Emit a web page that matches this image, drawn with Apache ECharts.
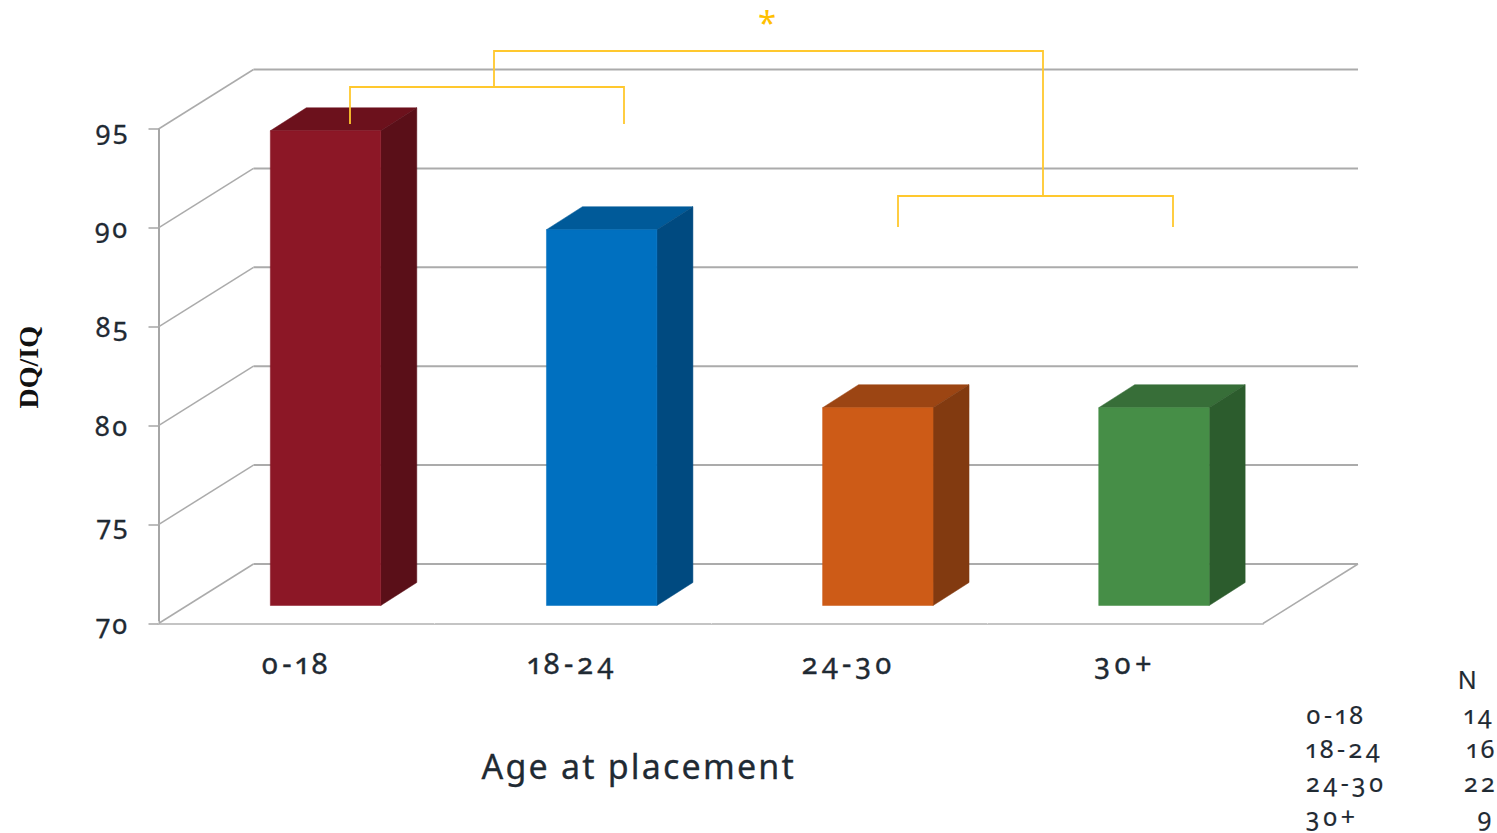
<!DOCTYPE html>
<html>
<head>
<meta charset="utf-8">
<style>
html,body{margin:0;padding:0;background:#fff}
#c{width:1497px;height:833px}
svg text{font-feature-settings:"onum" 1,"pnum" 1 !important;}
svg text[style*="27px"]{letter-spacing:1.8px;stroke:#1f2a33;stroke-width:.3px;}
svg text[style*="29px"]{letter-spacing:4px;stroke:#1f2a33;stroke-width:.4px;}
svg text[style*="34px"]{letter-spacing:2.2px;stroke:#1f2a33;stroke-width:.3px;}
svg text[style*="25px"]{letter-spacing:3.4px;stroke:#1f2a33;stroke-width:.2px;}
</style>
<script src="https://cdn.jsdelivr.net/npm/echarts@6/dist/echarts.min.js"></script>
</head>
<body>
<div id="c"></div>
<script>
var categories = ['0-18', '18-24', '24-30', '30+'];
var dqValues = [94, 89, 80, 80];
var groupSizes = [14, 16, 22, 9];
var yTicks = [70, 75, 80, 85, 90, 95];
var frontColors = ['#8C1726', '#0070C0', '#CD5B17', '#468E47'];
var topColors = ['#6C111C', '#005A99', '#9C4513', '#376E38'];
var sideColors = ['#5A0F18', '#004A80', '#823A10', '#2C5C2D'];

var FONT = '"Noto Sans", "Open Sans", sans-serif';
var INK = '#1f2a33';
var GOLD = '#FFC82E';
var WALL_DX = 95, WALL_DY = -59.5;
var BAR_OFF_X = 29, BAR_OFF_Y = -18, BAR_DX = 36, BAR_DY = -23;

function poly(points, fill) {
  return { type: 'polygon', shape: { points: points }, style: { fill: fill, stroke: fill, lineWidth: 0.5 } };
}
function wallItem(params, api) {
  var v = api.value(1);
  var p = api.coord([0, v]);
  var band = api.size([1, 0])[0];
  var left = p[0] - band / 2;
  var right = left + band * categories.length;
  var line = { stroke: '#ababab', lineWidth: 2, fill: 'none' };
  var children = [
    { type: 'line', shape: { x1: left, y1: p[1], x2: left + WALL_DX, y2: p[1] + WALL_DY }, style: { stroke: '#ababab', lineWidth: 1.5 } },
    { type: 'line', shape: { x1: left + WALL_DX, y1: p[1] + WALL_DY, x2: right + WALL_DX, y2: p[1] + WALL_DY }, style: line }
  ];
  if (v === yTicks[0]) {
    children.push({ type: 'line', shape: { x1: right, y1: p[1], x2: right + WALL_DX, y2: p[1] + WALL_DY }, style: { stroke: '#ababab', lineWidth: 1.5 } });
  }
  return { type: 'group', children: children };
}
function barItem(params, api) {
  var i = api.value(0);
  var top = api.coord([i, api.value(1)]);
  var base = api.coord([i, yTicks[0]]);
  var w = api.size([1, 0])[0] * 0.4;
  var x0 = top[0] - w / 2 + BAR_OFF_X, x1 = x0 + w;
  var yT = top[1] + BAR_OFF_Y, yB = base[1] + BAR_OFF_Y;
  return { type: 'group', children: [
    poly([[x0, yT], [x1, yT], [x1 + BAR_DX, yT + BAR_DY], [x0 + BAR_DX, yT + BAR_DY]], topColors[i]),
    poly([[x1, yT], [x1 + BAR_DX, yT + BAR_DY], [x1 + BAR_DX, yB + BAR_DY], [x1, yB]], sideColors[i]),
    poly([[x0, yT], [x1, yT], [x1, yB], [x0, yB]], frontColors[i])
  ] };
}
function bracket(points) {
  return { type: 'polyline', z: 100, shape: { points: points }, style: { stroke: GOLD, lineWidth: 1.8, fill: 'none' } };
}
function txt(x, y, s, align, size, color) {
  return { type: 'text', z: 100, x: x, y: y, style: { text: String(s), align: align, verticalAlign: 'middle', font: (size || 25) + 'px ' + FONT, fill: color || INK } };
}
var tableY = [714, 748, 782, 816];
var nRight = [1495, 1498, 1498, 1495];
var graphics = [
  bracket([[350, 124], [350, 87], [624, 87], [624, 124]]),
  bracket([[494, 87], [494, 51], [1043, 51], [1043, 196]]),
  bracket([[898, 227], [898, 196], [1173, 196], [1173, 227]]),
  txt(767, 22, '*', 'center', 33, '#FFC000'),
  txt(1469, 679, 'N', 'center', 25)
];
categories.forEach(function (c, i) {
  graphics.push(txt(1306, tableY[i], c, 'left', 25));
  graphics.push(txt(nRight[i], tableY[i], groupSizes[i], 'right', 25));
});

var chart = echarts.init(document.getElementById('c'), null, { renderer: 'svg' });
chart.setOption({
  animation: false,
  backgroundColor: '#fff',
  grid: { left: 158.5, right: 234, top: 129, bottom: 209.5, containLabel: false, outerBoundsMode: 'none' },
  xAxis: {
    type: 'category', data: categories,
    axisLine: { lineStyle: { color: '#c4c4c4', width: 2 } },
    axisTick: { show: true, inside: true, length: 2, lineStyle: { color: '#fff', width: 1 } },
    axisLabel: { color: INK, fontFamily: FONT, fontSize: 29, margin: 24 },
    name: 'Age at placement', nameLocation: 'middle', nameGap: 125,
    nameTextStyle: { color: INK, fontFamily: FONT, fontSize: 34, padding: [0, 144, 0, 0] }
  },
  yAxis: {
    type: 'value', min: 70, max: 95, interval: 5,
    splitLine: { show: false },
    axisLine: { show: true, lineStyle: { color: '#a6a6a6', width: 2 } },
    axisTick: { show: true, length: 10, lineStyle: { color: '#a6a6a6', width: 1.5 } },
    axisLabel: { color: INK, fontFamily: FONT, fontSize: 27, margin: 29 },
    name: 'DQ/IQ', nameLocation: 'middle', nameGap: 116,
    nameTextStyle: { color: '#111', fontFamily: '"Liberation Serif", serif', fontWeight: 'bold', fontSize: 28, padding: [0, 0, 0, 18] }
  },
  series: [
    { type: 'custom', coordinateSystem: 'cartesian2d', clip: false, silent: true, z: 1,
      data: yTicks.map(function (v) { return [0, v]; }), renderItem: wallItem },
    { type: 'custom', coordinateSystem: 'cartesian2d', clip: false, z: 5,
      data: dqValues.map(function (v, i) { return [i, v]; }), renderItem: barItem }
  ],
  graphic: graphics
});
</script>
</body>
</html>
